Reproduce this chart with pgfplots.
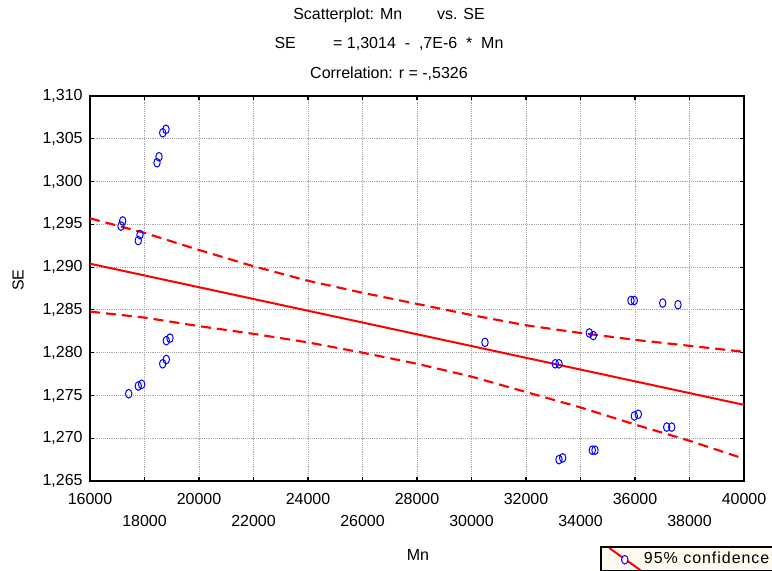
\documentclass[border=0pt]{standalone}
\usepackage{fontspec}
\setmainfont{Liberation Sans}
\usepackage{pgfplots}
\pgfplotsset{compat=1.18}
\definecolor{legbg}{RGB}{255,250,240}
\definecolor{ptblue}{RGB}{0,0,255}
\definecolor{lnred}{RGB}{255,0,0}
\newcommand{\ff}{\fontsize{12}{14}\selectfont}
\begin{document}
\begin{tikzpicture}
\begin{axis}[
  name=ax,
  scale only axis,
  width=490.5pt, height=288.75pt,
  xmin=16000, xmax=40000, ymin=1.265, ymax=1.310,
  axis line style={line width=1.5pt},
  tick align=inside,
  major tick length=3pt,
  tick style={black, line width=0.8pt},
  xtick={16000,20000,24000,28000,32000,36000,40000},
  extra x ticks={18000,22000,26000,30000,34000,38000},
  extra x tick style={grid=major, xticklabel style={yshift=-16.5pt}},
  ytick={1.265,1.270,1.275,1.280,1.285,1.290,1.295,1.300,1.305,1.310},
  scaled x ticks=false, scaled y ticks=false,
  /pgf/number format/assume math mode=true,
  /pgf/number format/1000 sep={},
  xticklabel style={font=\ff, yshift=-6pt},
  yticklabel style={font=\ff, xshift=-2pt, /pgf/number format/.cd, fixed, fixed zerofill, precision=3, use comma},
  grid=major,
  grid style={densely dotted, gray!70, line width=0.6pt},
  every axis x label/.style={at={(axis description cs:0.5015,-0.192)}, anchor=center, font=\ff},
  every axis y label/.style={at={(axis description cs:-0.110,0.522)}, anchor=center, rotate=90, font=\ff},
  xlabel={Mn}, ylabel={SE},
  legend style={at={(axis description cs:0.7798,-0.169)}, anchor=north west, fill=legbg, draw=black, line width=1.5pt, font=\ff\addfontfeature{LetterSpace=6}, inner xsep=5.5pt, inner ysep=0pt},
  clip=false,
]
% scatter points
\addplot[only marks, mark=o, mark size=2.4pt, mark options={ptblue, line width=0.75pt, yscale=1.35}, forget plot] table {
x y
18789 1.3061
18668 1.3057
18532 1.3029
18459 1.3022
17200 1.2954
17138 1.2948
17835 1.2938
17772 1.2931
18936 1.2817
18800 1.2814
18800 1.2792
18668 1.2787
17897 1.2763
17772 1.2761
17420 1.2752
30495 1.2812
33075 1.2787
33211 1.2787
34323 1.2823
34470 1.2820
35853 1.2861
35974 1.2861
37017 1.2858
37578 1.2856
35974 1.2726
36121 1.2728
37163 1.2713
37347 1.2713
34433 1.2686
34532 1.2686
33211 1.2675
33347 1.2677
};
% upper confidence band
\addplot[lnred, line width=1.6pt, dash pattern=on 7.5pt off 4.5pt, forget plot] table {
x y
16000 1.2957
18000 1.2940
20000 1.2920
22000 1.2901
24000 1.2884
26000 1.2870
28000 1.2857
30000 1.2844
32000 1.2832
34000 1.2823
36000 1.2815
38000 1.2808
40000 1.2801
};
% lower confidence band
\addplot[lnred, line width=1.6pt, dash pattern=on 7.5pt off 4.5pt, forget plot] table {
x y
16000 1.2848
18000 1.2841
20000 1.2831
22000 1.2822
24000 1.2812
26000 1.2800
28000 1.2787
30000 1.2772
32000 1.2754
34000 1.2736
36000 1.2716
38000 1.2697
40000 1.2676
};
% regression line
\addplot[lnred, line width=1.5pt, legend image code/.code={
  \draw[lnred, line width=1.5pt, solid] (0pt,8.25pt) -- (23.25pt,-8.25pt);
  \draw[ptblue, line width=0.75pt, solid, fill=legbg] (11.6pt,-0.5pt) ellipse (2.4pt and 3.2pt);
}] table {
x y
16000 1.2904
40000 1.2739
};
\addlegendentry{95\% confidence\hspace{20pt}}
\end{axis}
\node[font=\ff] at ([shift={(224.25pt,60.75pt)}]ax.north west) {Scatterplot: Mn\hspace{26pt}vs. SE};
\node[font=\ff] at ([shift={(224.25pt,39pt)}]ax.north west) {SE\hspace{28pt}= 1,3014 \ - \ ,7E-6 \ * \ Mn};
\node[font=\ff] at ([shift={(224.25pt,16.5pt)}]ax.north west) {Correlation: r = -,5326};
\pgfresetboundingbox
\path[use as bounding box] ([shift={(-67.5pt,-67.5pt)}]ax.south west) rectangle ([shift={(21pt,72pt)}]ax.north east);
\end{tikzpicture}
\end{document}
